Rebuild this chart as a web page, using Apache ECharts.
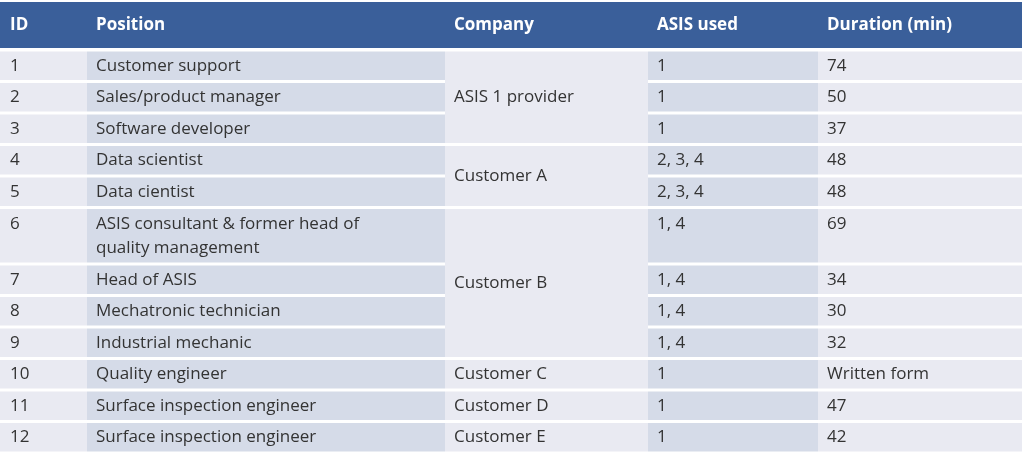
<!DOCTYPE html>
<html>
<head>
<meta charset="utf-8">
<script src="https://cdn.jsdelivr.net/npm/echarts@6/dist/echarts.min.js"></script>
<style>html,body{margin:0;padding:0;background:#fff}#main{width:1024px;height:454px}</style>
</head>
<body>
<div id="main"></div>
<script>
// table data
const headers = ['ID', 'Position', 'Company', 'ASIS used', 'Duration (min)']
const ids = ['1', '2', '3', '4', '5', '6', '7', '8', '9', '10', '11', '12']
const positions = ['Customer support', 'Sales/product manager', 'Software developer', 'Data scientist',
  'Data cientist', 'ASIS consultant & former head of\nquality management', 'Head of ASIS',
  'Mechatronic technician', 'Industrial mechanic', 'Quality engineer',
  'Surface inspection engineer', 'Surface inspection engineer']
// company groups: [name, first row, row count]
const companies = [['ASIS 1 provider', 0, 3], ['Customer A', 3, 2], ['Customer B', 5, 4],
  ['Customer C', 9, 1], ['Customer D', 10, 1], ['Customer E', 11, 1]]
const asisUsed = ['1', '1', '1', '2, 3, 4', '2, 3, 4', '1, 4', '1, 4', '1, 4', '1, 4', '1', '1', '1']
const durations = ['74', '50', '37', '48', '48', '69', '34', '30', '32', 'Written form', '47', '42']

const colX = [0, 87, 445, 648, 818, 1022]
const colFill = ['#e9eaf2', '#d5dbe8', '#e9eaf2', '#d5dbe8', '#e9eaf2']
const rowH = ids.map((d, i) => (i === 5 ? 56.5 : 31.5))
const rowTop = []
let y = 51.5
rowH.forEach(h => { rowTop.push(y); y += h })
const gap = 3
const font = '"Open Sans", "Noto Sans", sans-serif'

const els = []
els.push({ type: 'rect', shape: { x: 0, y: 2, width: 1022, height: 46 }, style: { fill: '#3a5f9a' } })
headers.forEach((h, c) => {
  els.push({ type: 'text', x: colX[c] + (c === 0 ? 10 : 9), y: 25,
    style: { text: h, fill: '#fff', font: 'bold 17px ' + font, verticalAlign: 'middle' } })
})

function cell(c, r0, n, text, topAlign) {
  const top = rowTop[r0]
  const h = rowTop[r0 + n - 1] + rowH[r0 + n - 1] - top - gap
  els.push({ type: 'rect', shape: { x: colX[c], y: top, width: colX[c + 1] - colX[c], height: h },
    style: { fill: colFill[c] } })
  const tx = colX[c] + (c === 0 ? 10 : 9)
  els.push({ type: 'text', x: tx, y: topAlign ? top + 3 : top + h / 2,
    style: { text: text, fill: '#333', font: '17px ' + font, lineHeight: 24,
      verticalAlign: topAlign ? 'top' : 'middle' } })
}

ids.forEach((d, i) => {
  const top = i === 5
  cell(0, i, 1, d, top)
  cell(1, i, 1, positions[i], top)
  cell(3, i, 1, asisUsed[i], top)
  cell(4, i, 1, durations[i], top)
})
companies.forEach(([name, r0, n]) => cell(2, r0, n, name, false))

const chart = echarts.init(document.getElementById('main'))
chart.setOption({ animation: false, graphic: { elements: els } })
</script>
</body>
</html>
